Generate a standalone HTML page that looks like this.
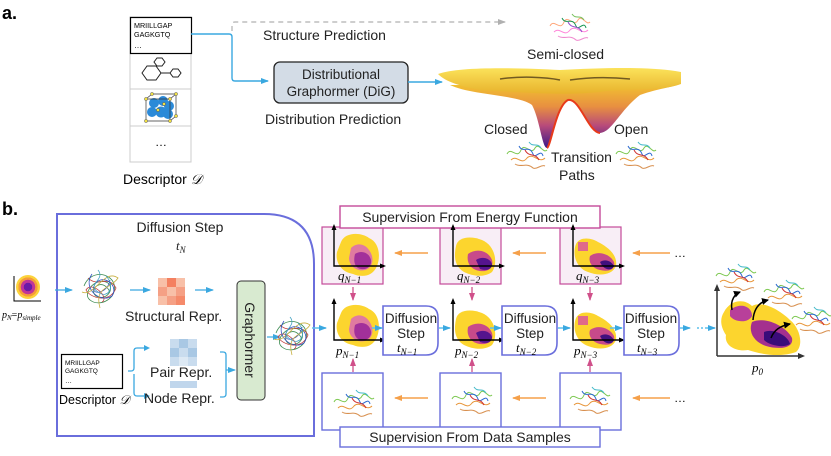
<!DOCTYPE html>
<html><head><meta charset="utf-8"><style>
html,body{margin:0;padding:0;background:#fff;}
svg{display:block;font-family:"Liberation Sans",sans-serif;}
.m{font-family:"Liberation Serif",serif;font-style:italic;}
</style></head><body>
<svg width="831" height="456" viewBox="0 0 831 456" xmlns="http://www.w3.org/2000/svg">
<defs>
<linearGradient id="well" x1="0" y1="0" x2="0" y2="1">
<stop offset="0" stop-color="#f2c230"/><stop offset="0.35" stop-color="#e89040"/><stop offset="0.65" stop-color="#b84a7a"/><stop offset="1" stop-color="#3a1a8a"/></linearGradient>
<linearGradient id="top" x1="0" y1="0" x2="0" y2="1"><stop offset="0" stop-color="#fbe25a"/><stop offset="1" stop-color="#e8b22c"/></linearGradient>
<radialGradient id="pn"><stop offset="0" stop-color="#6a1aa8"/><stop offset="0.35" stop-color="#6a1aa8"/><stop offset="0.36" stop-color="#c0359a"/><stop offset="0.6" stop-color="#c0359a"/><stop offset="0.61" stop-color="#f59a3a"/><stop offset="0.8" stop-color="#f59a3a"/><stop offset="0.81" stop-color="#fcd33a"/><stop offset="1" stop-color="#fcd33a"/></radialGradient>
<marker id="ab" markerWidth="8" markerHeight="8" refX="7" refY="4" orient="auto" markerUnits="userSpaceOnUse"><path d="M0,1 L8,4 L0,7 Z" fill="#3aa8e0"/></marker>
<marker id="ag" markerWidth="8" markerHeight="8" refX="7" refY="4" orient="auto" markerUnits="userSpaceOnUse"><path d="M0,1 L8,4 L0,7 Z" fill="#b0b0b0"/></marker>
<marker id="ao" markerWidth="8" markerHeight="8" refX="7" refY="4" orient="auto" markerUnits="userSpaceOnUse"><path d="M0,1 L8,4 L0,7 Z" fill="#f5a04a"/></marker>
<marker id="ap" markerWidth="8" markerHeight="8" refX="7" refY="4" orient="auto" markerUnits="userSpaceOnUse"><path d="M0,1 L8,4 L0,7 Z" fill="#d0508a"/></marker>
<marker id="ak" markerWidth="7" markerHeight="7" refX="6" refY="3.5" orient="auto" markerUnits="userSpaceOnUse"><path d="M0,0 L7,3.5 L0,7 Z" fill="#000"/></marker>
<g id="blob1">
<path d="M6,8 C10,-2 26,-2 34,4 C44,8 46,22 42,32 C38,42 28,44 18,40 C6,38 0,28 2,18 Z" fill="#fcd52e"/>
<path d="M16,14 C22,8 30,10 34,16 C40,24 38,34 30,36 C22,38 14,32 14,24 Z" fill="#e07aa0"/>
<path d="M20,20 C26,16 34,18 36,26 C37,32 32,36 26,35 C20,34 18,28 20,20 Z" fill="#a2309a"/>
</g>
<g id="blob2">
<path d="M4,10 C6,0 20,0 30,4 C44,10 46,28 40,36 C32,42 20,40 12,36 C2,30 2,20 4,10 Z" fill="#fcd52e"/>
<path d="M16,18 C24,12 36,14 40,24 C42,32 36,36 28,35 C20,34 14,28 16,18 Z" fill="#c84a8a"/>
<path d="M24,24 C30,20 38,22 40,28 C40,34 34,35 28,33 Z" fill="#55148e"/>
</g>
<g id="blob3">
<path d="M4,8 C8,0 20,2 26,6 C34,10 46,18 44,30 C40,40 26,40 16,36 C4,32 0,18 4,8 Z" fill="#fcd52e"/>
<rect x="6" y="6" width="10" height="9" fill="#e06a8a"/>
<path d="M18,20 C26,14 38,18 42,26 C44,34 36,36 28,34 C20,32 16,26 18,20 Z" fill="#c84a8a"/>
<path d="M28,26 C34,22 40,26 42,30 C40,35 32,35 28,26 Z" fill="#40107e"/>
</g>
<g id="axes"><path d="M0,-40 L0,0 L50,0" fill="none" stroke="#000" stroke-width="1.4"/><path d="M-2.5,-36 L0,-42 L2.5,-36Z M46,-2.5 L52,0 L46,2.5Z" fill="#000"/></g>
<g id="prot" fill="none" stroke-width="1">
<path d="M2,14 C6,6 12,20 16,10 C20,2 26,16 30,8 C34,2 38,14 42,10" stroke="#7cc850"/>
<path d="M6,20 C12,14 16,26 22,18 C28,12 34,24 40,18" stroke="#e8963a"/>
<path d="M14,6 C18,14 24,4 28,14 C30,20 36,8 38,16" stroke="#2c6ad0"/>
<path d="M10,24 C16,28 22,22 28,28 C32,30 36,24 40,26" stroke="#d89050"/>
<path d="M20,10 C24,18 30,12 34,20" stroke="#d03030"/>
<path d="M24,2 C28,8 32,2 36,8" stroke="#40b8c8"/>
</g>
<g id="tangle" fill="none" stroke-width="0.8">
<path d="M4,18 C10,2 30,4 34,16 C38,30 20,40 10,32 C2,26 14,10 26,14 C36,18 28,34 16,28 C8,22 22,8 30,24" stroke="#3a8a50"/>
<path d="M8,10 C18,20 28,6 36,20 C30,36 10,30 6,22 C12,12 30,30 22,34" stroke="#c04040"/>
<path d="M12,6 C2,20 20,36 32,28 C40,16 20,4 14,18 C10,28 28,26 30,12" stroke="#3050c0"/>
<path d="M2,24 C14,30 24,0 38,10 C30,22 14,18 20,40" stroke="#c8b040"/>
<path d="M18,2 C26,12 6,16 18,24 C28,32 36,18 26,8" stroke="#40a0c0"/>
</g>
</defs>

<!-- ===== PART A ===== -->
<text x="2" y="19" font-size="18" font-weight="bold">a.</text>
<rect x="130" y="17" width="61" height="145" fill="#fff" stroke="#ccc" stroke-width="1"/>
<line x1="130" y1="89" x2="191" y2="89" stroke="#ccc"/>
<line x1="130" y1="126" x2="191" y2="126" stroke="#ccc"/>
<rect x="130.5" y="17.5" width="61" height="36" fill="#fff" stroke="#000" stroke-width="1.2"/>
<text x="134" y="28" font-size="7.2">MRIILLGAP</text>
<text x="134" y="37" font-size="7.2">GAGKGTQ</text>
<text x="134" y="48" font-size="8">…</text>
<!-- hexagons -->
<g fill="none" stroke="#222" stroke-width="1">
<polygon points="142,73 147,66 156,66 161,73 156,80 147,80"/>
<polygon points="154,62 157,58 162,58 165,62 162,66 157,66"/>
<polygon points="170,73 173,69 178,69 181,73 178,77 173,77"/>
<line x1="161" y1="73" x2="170" y2="73"/>
</g>
<!-- cube -->
<g>
<circle cx="154" cy="103" r="5" fill="#2b8ad8"/><circle cx="163" cy="101" r="5" fill="#2b8ad8"/><circle cx="169" cy="106" r="5" fill="#2b8ad8"/>
<circle cx="152" cy="112" r="5" fill="#2b8ad8"/><circle cx="161" cy="112" r="5.5" fill="#2b8ad8"/><circle cx="168" cy="114" r="5" fill="#2b8ad8"/>
<path d="M146,99 L170,99 L170,121 L146,121 Z M152,94 L176,94 L176,116 L170,121 M170,99 L176,94 M146,99 L152,94" fill="none" stroke="#333" stroke-width="0.7"/>
<g fill="#f0e040" stroke="#335" stroke-width="0.4"><circle cx="146" cy="99" r="1.6"/><circle cx="170" cy="99" r="1.6"/><circle cx="146" cy="121" r="1.6"/><circle cx="170" cy="121" r="1.6"/><circle cx="152" cy="94" r="1.6"/><circle cx="176" cy="94" r="1.6"/><circle cx="176" cy="116" r="1.6"/><circle cx="158" cy="110" r="1.6"/><circle cx="164" cy="104" r="1.6"/></g>
</g>
<text x="155" y="146" font-size="12">…</text>
<text x="123" y="184" font-size="14">Descriptor <tspan class="m">𝒟</tspan></text>

<path d="M191,34 L229,34 Q232,34 232,37 L232,78 Q232,81 235,81 L268,81" fill="none" stroke="#3aa8e0" stroke-width="1.4" marker-end="url(#ab)"/>
<path d="M232,31 L232,25 Q232,22 235,22 L505,22" fill="none" stroke="#b0b0b0" stroke-width="1.2" stroke-dasharray="5,4" marker-end="url(#ag)"/>
<text x="263" y="40" font-size="14" fill="#222">Structure Prediction</text>
<rect x="274" y="62" width="134" height="41" rx="6" fill="#d3dce6" stroke="#222" stroke-width="1.3"/>
<text x="341" y="79" font-size="13.5" text-anchor="middle" fill="#222">Distributional</text>
<text x="341" y="96" font-size="13.5" text-anchor="middle" fill="#222">Graphormer (DiG)</text>
<text x="265" y="124" font-size="14" fill="#222">Distribution Prediction</text>
<line x1="408" y1="82" x2="442" y2="82" stroke="#3aa8e0" stroke-width="1.4" marker-end="url(#ab)"/>

<!-- landscape -->
<path d="M450,85 C470,95 520,95 532,105 C540,120 542,148 547,148 C552,148 556,106 568,100 C580,98 588,132 600,133 C612,132 620,110 640,95 C660,88 670,88 680,84 Z" fill="url(#well)"/>
<path d="M438,74 C460,66 520,68 560,70 C600,68 650,66 681,72 L681,84 C660,92 620,88 600,92 C560,96 520,92 480,90 C460,86 446,82 438,74 Z" fill="url(#top)"/>
<path d="M500,79 C520,76 545,77 560,80 M570,80 C590,77 610,77 630,79" stroke="#3a2a10" stroke-width="1.5" fill="none" opacity="0.7"/>
<path d="M547,148 C551,146 556,106 568,100 C580,98 588,132 600,133" fill="none" stroke="#e83a1a" stroke-width="2"/>
<use href="#prot" x="548" y="12" transform="" opacity="0.9" style="filter:hue-rotate(280deg)"/>
<text x="527" y="59" font-size="14" fill="#222">Semi-closed</text>
<text x="484" y="134" font-size="14" fill="#222">Closed</text>
<text x="614" y="134" font-size="14" fill="#222">Open</text>
<text x="551" y="162" font-size="14" fill="#222">Transition</text>
<text x="559" y="180" font-size="14" fill="#222">Paths</text>
<use href="#prot" x="505" y="140"/>
<use href="#prot" x="614" y="140"/>

<!-- ===== PART B ===== -->
<text x="2" y="215" font-size="18" font-weight="bold">b.</text>
<path d="M57,214 L264,214 Q314,214 314,264 L314,436 L57,436 Z" fill="#fff" stroke="#6a6edc" stroke-width="2"/>
<text x="180" y="232" font-size="14" text-anchor="middle" fill="#222">Diffusion Step</text>
<text x="176" y="250" font-size="13" class="m" fill="#222">t<tspan font-size="9" dy="3">N</tspan></text>
<!-- p_N -->
<circle cx="28" cy="287" r="12" fill="url(#pn)"/>
<path d="M14,276 L14,301 L41,301" fill="none" stroke="#000" stroke-width="1"/>
<text x="2" y="318" font-size="10" class="m">p<tspan font-size="7" dy="2">N</tspan><tspan dy="-2" font-style="normal">=</tspan>p<tspan font-size="7" dy="2">simple</tspan></text>
<line x1="55" y1="290" x2="72" y2="290" stroke="#3aa8e0" stroke-width="1.2" marker-end="url(#ab)"/>
<use href="#tangle" x="80" y="268"/>
<line x1="130" y1="290" x2="150" y2="290" stroke="#3aa8e0" stroke-width="1.2" marker-end="url(#ab)"/>
<g>
<rect x="158" y="278" width="27" height="27" fill="#f5a085"/>
<rect x="158" y="278" width="9" height="9" fill="#f8c0a8"/><rect x="176" y="278" width="9" height="9" fill="#f8c0a8"/>
<rect x="167" y="287" width="9" height="9" fill="#f8c0a8"/><rect x="158" y="296" width="9" height="9" fill="#f8c0a8"/>
<rect x="176" y="296" width="9" height="9" fill="#f58a6a"/><rect x="167" y="278" width="9" height="9" fill="#f48060"/>
</g>
<line x1="195" y1="290" x2="213" y2="290" stroke="#3aa8e0" stroke-width="1.2" marker-end="url(#ab)"/>
<text x="125" y="321" font-size="14" fill="#222">Structural Repr.</text>
<rect x="237" y="281" width="28" height="119" rx="4" fill="#d8ead0" stroke="#333" stroke-width="1"/>
<text transform="translate(245,340) rotate(90)" font-size="14" text-anchor="middle" fill="#222">Graphormer</text>
<line x1="267" y1="337" x2="280" y2="337" stroke="#3aa8e0" stroke-width="1.2" marker-end="url(#ab)"/>
<use href="#tangle" x="272" y="315"/>
<rect x="61.5" y="354.5" width="61" height="34" fill="#fff" stroke="#000" stroke-width="1.2"/>
<text x="65" y="365" font-size="6.5">MRIILLGAP</text>
<text x="65" y="373" font-size="6.5">GAGKGTQ</text>
<text x="65" y="383" font-size="7">…</text>
<text x="59" y="404" font-size="12.5">Descriptor <tspan class="m">𝒟</tspan></text>
<path d="M128,371 L131,371 Q134,371 134,368 L134,351 Q134,348 137,348 L145,348 M134,374 L134,393 Q134,396 137,396 L145,396" fill="none" stroke="#3aa8e0" stroke-width="1.3"/>
<path d="M144,345 L150,348 L144,351Z M144,393 L150,396 L144,399Z" fill="#3aa8e0"/>
<g>
<rect x="170" y="339" width="27" height="27" fill="#c9dcee"/>
<rect x="179" y="339" width="9" height="9" fill="#a9c8e4"/><rect x="170" y="348" width="9" height="9" fill="#a9c8e4"/><rect x="188" y="348" width="9" height="9" fill="#a9c8e4"/><rect x="179" y="357" width="9" height="9" fill="#dde9f4"/>
<rect x="170" y="381" width="27" height="7" fill="#c0d6ec"/>
</g>
<text x="150" y="377" font-size="14" fill="#222">Pair Repr.</text>
<text x="144" y="403" font-size="14" fill="#222">Node Repr.</text>
<path d="M220,352 L223,352 Q226,352 226,355 L226,394 Q226,397 223,397 L220,397" fill="none" stroke="#3aa8e0" stroke-width="1.3"/>
<line x1="226" y1="370" x2="235" y2="370" stroke="#3aa8e0" stroke-width="1.2" marker-end="url(#ab)"/>

<!-- energy row -->
<g fill="#f8eef6" stroke="#c44a9a" stroke-width="1.2">
<rect x="322" y="227" width="61" height="57"/><rect x="440" y="227" width="61" height="57"/><rect x="560" y="227" width="61" height="57"/>
</g>
<rect x="340" y="206" width="260" height="22" fill="#fff" stroke="#c44a9a" stroke-width="1.4"/>
<text x="470" y="222" font-size="14" text-anchor="middle" fill="#222">Supervision From Energy Function</text>
<use href="#blob1" x="335" y="234"/><use href="#axes" x="334" y="266"/>
<use href="#blob2" x="452" y="236"/><use href="#axes" x="453" y="266"/>
<use href="#blob3" x="572" y="236"/><use href="#axes" x="573" y="266"/>
<text x="338" y="280" font-size="13" class="m">q<tspan font-size="9" dy="3">N−1</tspan></text>
<text x="457" y="280" font-size="13" class="m">q<tspan font-size="9" dy="3">N−2</tspan></text>
<text x="576" y="280" font-size="13" class="m">q<tspan font-size="9" dy="3">N−3</tspan></text>
<g stroke="#f5a04a" stroke-width="1.5"><line x1="428" y1="253" x2="395" y2="253" marker-end="url(#ao)"/><line x1="546" y1="253" x2="513" y2="253" marker-end="url(#ao)"/><line x1="670" y1="253" x2="633" y2="253" marker-end="url(#ao)"/>
<line x1="428" y1="398" x2="395" y2="398" marker-end="url(#ao)"/><line x1="546" y1="398" x2="513" y2="398" marker-end="url(#ao)"/><line x1="670" y1="398" x2="633" y2="398" marker-end="url(#ao)"/></g>
<text x="674" y="257" font-size="12">…</text>
<text x="674" y="402" font-size="12">…</text>
<g stroke="#d0508a" stroke-width="1.3">
<line x1="353" y1="287" x2="353" y2="300" marker-end="url(#ap)"/><line x1="472" y1="287" x2="472" y2="300" marker-end="url(#ap)"/><line x1="590" y1="287" x2="590" y2="300" marker-end="url(#ap)"/>
<line x1="353" y1="372" x2="353" y2="359" marker-end="url(#ap)"/><line x1="472" y1="372" x2="472" y2="359" marker-end="url(#ap)"/><line x1="590" y1="372" x2="590" y2="359" marker-end="url(#ap)"/>
</g>
<!-- p row -->
<use href="#blob1" x="335" y="305"/><use href="#axes" x="334" y="340"/>
<use href="#blob2" x="452" y="309"/><use href="#axes" x="453" y="340"/>
<use href="#blob3" x="572" y="310"/><use href="#axes" x="573" y="340"/>
<text x="336" y="355" font-size="13" class="m">p<tspan font-size="9" dy="3">N−1</tspan></text>
<text x="455" y="355" font-size="13" class="m">p<tspan font-size="9" dy="3">N−2</tspan></text>
<text x="574" y="355" font-size="13" class="m">p<tspan font-size="9" dy="3">N−3</tspan></text>
<g fill="#fff" stroke="#6a6edc" stroke-width="1.6">
<path d="M383,306 L426,306 Q438,306 438,318 L438,343 Q438,355 426,355 L383,355 Z"/>
<path d="M502,306 L545,306 Q557,306 557,318 L557,343 Q557,355 545,355 L502,355 Z"/>
<path d="M624,306 L667,306 Q679,306 679,318 L679,343 Q679,355 667,355 L624,355 Z"/>
</g>
<g font-size="13.5" text-anchor="middle" fill="#222">
<text x="411" y="323">Diffusion</text><text x="411" y="338">Step</text>
<text x="530" y="323">Diffusion</text><text x="530" y="338">Step</text>
<text x="651" y="323">Diffusion</text><text x="651" y="338">Step</text>
</g>
<text x="397" y="352" font-size="13" class="m">t<tspan font-size="9" dy="3">N−1</tspan></text>
<text x="516" y="352" font-size="13" class="m">t<tspan font-size="9" dy="3">N−2</tspan></text>
<text x="637" y="352" font-size="13" class="m">t<tspan font-size="9" dy="3">N−3</tspan></text>
<g stroke="#5ec0ec" stroke-width="1.5">
<line x1="312" y1="328" x2="326" y2="328" marker-end="url(#ab)"/>
<line x1="372" y1="328" x2="382" y2="328" marker-end="url(#ab)"/>
<line x1="439" y1="328" x2="450" y2="328" marker-end="url(#ab)"/>
<line x1="490" y1="328" x2="501" y2="328" marker-end="url(#ab)"/>
<line x1="558" y1="328" x2="570" y2="328" marker-end="url(#ab)"/>
<line x1="610" y1="328" x2="622" y2="328" marker-end="url(#ab)"/>
<line x1="680" y1="328" x2="690" y2="328" marker-end="url(#ab)"/>
<line x1="697" y1="328" x2="703" y2="328" stroke-dasharray="2,2"/>
<line x1="705" y1="328" x2="715" y2="328" marker-end="url(#ab)"/>
</g>
<!-- sample row -->
<g fill="#fff" stroke="#6a6edc" stroke-width="1.4">
<rect x="322" y="373" width="61" height="57"/><rect x="440" y="373" width="61" height="57"/><rect x="560" y="373" width="61" height="57"/>
</g>
<use href="#prot" x="332" y="388"/><use href="#prot" x="450" y="385"/><use href="#prot" x="568" y="385"/>
<rect x="340" y="427" width="260" height="20" fill="#fff" stroke="#6a6edc" stroke-width="1.4"/>
<text x="470" y="442" font-size="14" text-anchor="middle" fill="#222">Supervision From Data Samples</text>
<!-- p0 -->
<path d="M724,312 C730,300 744,298 752,306 C762,300 780,310 790,320 C800,328 804,345 796,352 C780,358 760,354 748,350 C735,352 724,345 726,335 C720,326 720,318 724,312 Z" fill="#fcd52e"/>
<path d="M730,310 C740,302 752,306 752,316 C748,324 734,322 730,316 Z" fill="#b8409a"/>
<path d="M752,322 C765,316 786,326 792,338 C794,348 780,350 766,346 C754,342 748,332 752,322 Z" fill="#a4308e"/>
<path d="M764,332 C774,328 788,336 790,344 C784,348 770,346 764,340 Z" fill="#3a0c7a"/>
<path d="M717,356 L717,290 M717,356 L800,356" stroke="#333" stroke-width="1.5" fill="none"/>
<path d="M714,291 L717,284 L720,291Z M798,353 L805,356 L798,359Z" fill="#333"/>
<text x="752" y="372" font-size="13" class="m">p<tspan font-size="9" dy="3">0</tspan></text>
<g stroke="#000" stroke-width="1.5" fill="none">
<path d="M732,310 C730,300 735,294 740,292" marker-end="url(#ak)"/>
<path d="M753,320 C754,308 760,302 768,300" marker-end="url(#ak)"/>
<path d="M771,338 C774,330 780,326 790,324" marker-end="url(#ak)"/>
</g>
<use href="#prot" x="714" y="262"/><use href="#prot" x="762" y="278"/><use href="#prot" x="790" y="305"/>
</svg>
</body></html>
